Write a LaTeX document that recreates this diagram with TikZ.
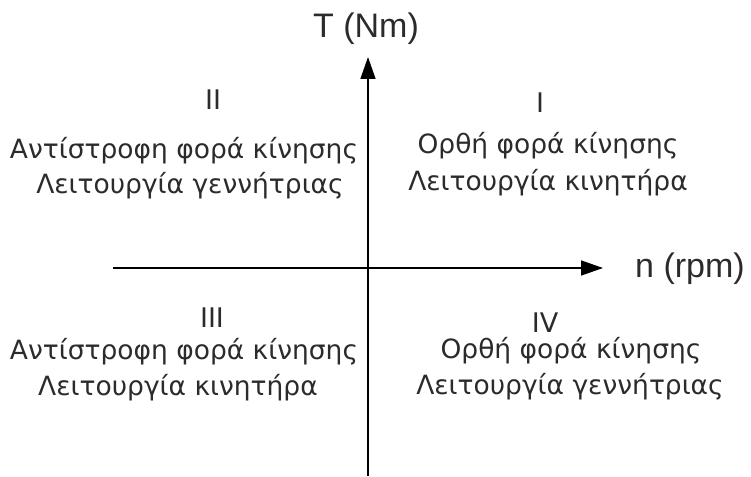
\documentclass[tikz,border=0pt]{standalone}
\usepackage{fontspec}
\setmainfont{DejaVu Sans}
\newfontfamily\axfont{Liberation Sans}
\usetikzlibrary{arrows.meta}
\definecolor{txt}{HTML}{2B2B2B}
\tikzset{
  axis/.style={line width=1.5pt, draw=black, -{Triangle[length=22pt,width=15pt]}},
  quadtext/.style={text=txt, inner sep=0pt, anchor=base,
    font=\fontsize{26.5pt}{30pt}\selectfont},
  numeral/.style={text=txt, inner sep=0pt, anchor=base,
    font=\fontsize{27pt}{30pt}\selectfont},
  axlabel/.style={text=txt, inner sep=0pt, font=\axfont\fontsize{34pt}{40pt}\selectfont}
}
\begin{document}
\begin{tikzpicture}[x=1pt,y=-1pt]
\useasboundingbox (0,0) rectangle (751,476);
\coordinate (hstart) at (113,268);
\coordinate (hend) at (603,268);
\coordinate (vstart) at (368,476);
\coordinate (vend) at (368,57);
\draw[axis] (hstart) -- (hend);
\draw[axis] (vstart) -- (vend);
\node[axlabel, anchor=base] (tlab) at (366,38) {T (Nm)};
\node[axlabel, anchor=base west] (nlab) at (635,277) {n (rpm)};
% Quadrant I
\node[numeral] (q1n) at (540,113) {I};
\node[quadtext] (q1a) at (548,153) {Ορθή φορά κίνησης};
\node[quadtext] (q1b) at (548,190) {Λειτουργία κινητήρα};
% Quadrant II
\node[numeral] (q2n) at (213,110) {II};
\node[quadtext] (q2a) at (184,158) {Αντίστροφη φορά κίνησης};
\node[quadtext] (q2b) at (190,193) {Λειτουργία γεννήτριας};
% Quadrant III
\node[numeral] (q3n) at (212,327) {III};
\node[quadtext] (q3a) at (184,359) {Αντίστροφη φορά κίνησης};
\node[quadtext] (q3b) at (178,395) {Λειτουργία κινητήρα};
% Quadrant IV
\node[numeral] (q4n) at (545,332) {IV};
\node[quadtext] (q4a) at (571,358) {Ορθή φορά κίνησης};
\node[quadtext] (q4b) at (570,394) {Λειτουργία γεννήτριας};
\end{tikzpicture}
\end{document}
